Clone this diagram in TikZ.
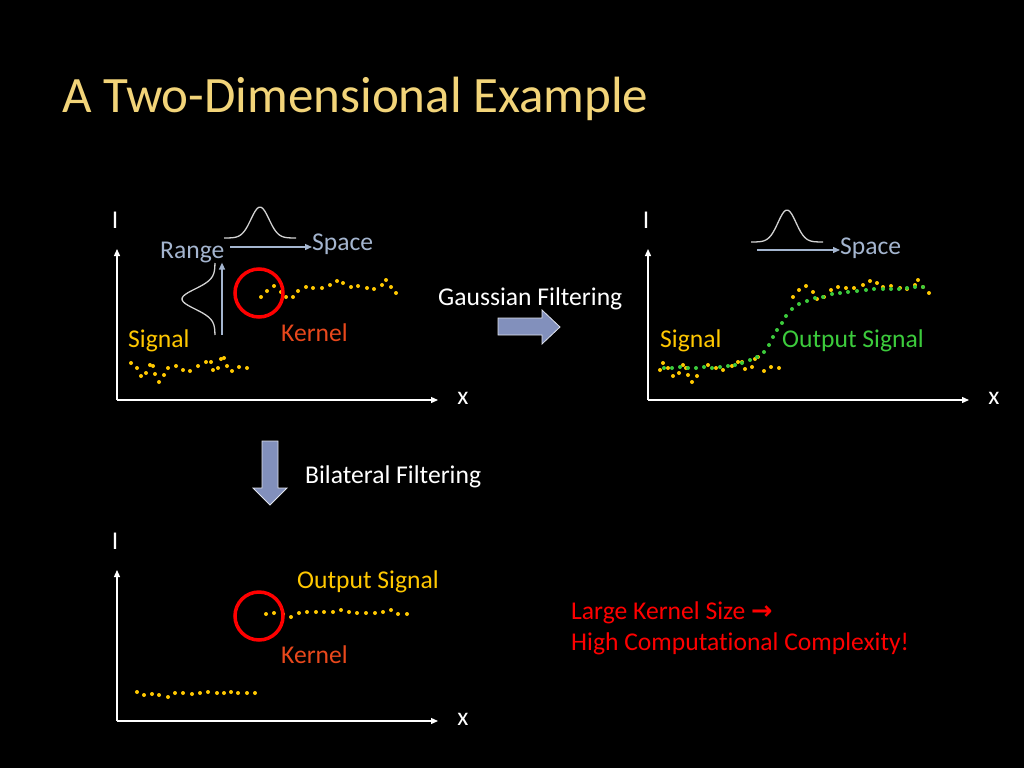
\documentclass[tikz,border=0pt]{standalone}
\usepackage{fontspec}
\setmainfont{Carlito}[Ligatures=NoCommon]
\newfontfamily\symfont{DejaVu Sans}
\usetikzlibrary{arrows.meta}
\definecolor{titlegold}{HTML}{F2D479}
\definecolor{sig}{HTML}{FFC800}
\definecolor{outg}{HTML}{3CCB3C}
\definecolor{steel}{HTML}{A4B5CF}
\definecolor{kred}{HTML}{E8481C}
\definecolor{blk}{HTML}{8290BC}

\begin{document}
\begin{tikzpicture}[x=1pt,y=-1pt,
  axis/.style={white,line width=1.3pt,-{Triangle[length=7pt,width=6pt]}},
  dir/.style={steel,line width=1.3pt,-{Triangle[length=7pt,width=6pt]}},
  bell/.style={gray!35,line width=1.3pt,smooth,variable=\t,domain=-36:36,samples=40},
  lbl/.style={anchor=west,inner sep=0pt,font=\fontsize{25.6}{30}\selectfont},
  kern/.style={circle,draw=red,line width=3.5pt,minimum size=48pt,inner sep=0pt},
  blockarrow/.style={fill=blk,draw=white!75!blk,line width=0.8pt}]
   \fill[black] (0,0) rectangle (1024,768);
   \node[anchor=base west,inner sep=0pt,titlegold,font=\fontsize{51}{60}\selectfont]
     (title) at (62,112) {A Two-Dimensional Example};
   % axes of the three plots
   \foreach \ox/\oy/\n in {117/400/a,648/400/b,117/721/c} {
    \begin{scope}[shift={(\ox,\oy)}]
     \coordinate (o\n) at (0,0);
     \coordinate (yt\n) at (0,-151);
     \coordinate (xt\n) at (321,0);
     \draw[axis] (o\n) -- (yt\n);
     \draw[axis] (o\n) -- (xt\n);
     \node[lbl,anchor=center,white] (I\n) at (-2,-180) {I};
     \node[lbl,anchor=center,white] (x\n) at (346,-2) {x};
    \end{scope}
   }
   % top left: input signal and kernel
   \foreach \x/\y in {131/363,137/368,141/376,146/373,150/365,153/366,155/374,159/382,
     164/375,168/368,176/366,183/370,190/371,198/366,206/362,211/362,213/370,218/368,
     221/359,224/358,227/366,232/371,239/367,247/368,
     261/297,267/291,274/286,281/292,286/297,293/297,298/291,306/287,313/288,322/288,
     330/285,337/281,343/283,351/287,358/286,367/288,374/289,382/285,386/280,391/287,396/293} {
    \fill[sig] (\x,\y) circle (2pt);
   }
   \draw[bell] plot({260+\t},{238-31*exp(-(\t/9)^2/2)});
   \draw[bell] plot({215-33*exp(-(\t/10)^2/2)},{299+\t});
   \node[lbl,steel] (range1) at (160,252) {Range};
   \node[lbl,steel] (space1) at (312,244) {Space};
   \coordinate (sp1) at (230,247);
   \coordinate (rg1) at (222,335);
   \draw[dir] (sp1) -- (sp1 -| space1.west);
   \draw[dir] (rg1) -- (rg1 |- range1.south);
   \node[kern] (ker1) at (259,293) {};
   \node[lbl,kred] (kernel1) at (281,333) {Kernel};
   \node[lbl,sig] (signal1) at (128,341) {Signal};
   % gaussian filtering
   \draw[blockarrow] (498,318) -- (542,318) -- (542,310) -- (560,327) -- (542,344)
     -- (542,335) -- (498,335) -- cycle;
   \node[lbl,white] (gauss) at (438,299) {Gaussian Filtering};
   % top right: gaussian result
   \foreach \x/\y in {660/370,663/363,668/368,673/376,679/373,683/365,686/368,688/375,
     692/382,697/376,708/365,716/368,723/370,732/366,738/362,742/362,745/369,752/367,
     755/359,758/357,764/371,771/367,779/368,
     793/297,799/290,806/286,813/292,817/299,824/297,831/290,838/287,846/288,854/288,
     863/285,870/281,877/283,883/287,891/286,900/288,907/289,915/285,918/280,923/287,929/293} {
    \fill[sig] (\x,\y) circle (2pt);
   }
   \foreach \x/\y in {664/368,672/368,680/367,688/368,696/368,704/367,712/368,720/367,
     728/366,735/365,742/363,750/360,757/357,764/352,769/345,773/337,777/330,782/323,
     786/316,792/309,799/304,807/301,815/298,823/297,832/294,840/293,848/292,857/291,
     866/290,874/289,883/289,891/289,899/289,907/288,915/287,923/287} {
    \fill[outg] (\x,\y) circle (2pt);
   }
   \draw[bell] plot({787+\t},{242-32*exp(-(\t/9)^2/2)});
   \node[lbl,steel] (space2) at (840,248) {Space};
   \coordinate (sp2) at (757,250);
   \draw[dir] (sp2) -- (sp2 -| space2.west);
   \node[lbl,sig] (signal2) at (660,341) {Signal};
   \node[lbl,outg] (out2) at (782,341) {Output Signal};
   % bilateral filtering
   \draw[blockarrow] (262,441) -- (278,441) -- (278,488) -- (287,488) -- (270,505)
     -- (253,488) -- (262,488) -- cycle;
   \node[lbl,white] (bilat) at (305,477) {Bilateral Filtering};
   % bottom left: bilateral result
   \foreach \x/\y in {137/692,144/695,152/694,159/695,168/697,175/693,183/693,192/694,
     200/693,208/692,217/693,224/693,231/692,238/693,247/693,255/693,
     266/614,274/613,283/614,291/617,299/613,307/612,316/612,324/612,333/612,341/610,
     349/612,357/613,366/613,375/613,383/612,391/610,398/614,407/614} {
    \fill[sig] (\x,\y) circle (2pt);
   }
   \node[kern] (ker3) at (259,616) {};
   \node[lbl,sig] (out3) at (297,582) {Output Signal};
   \node[lbl,kred] (kernel3) at (281,655) {Kernel};
   \node[lbl,red] (note1) at (571,613) {Large Kernel Size {\symfont\bfseries →}};
   \node[lbl,red] (note2) at (571,644) {High Computational Complexity!};
  \end{tikzpicture}
\end{document}
